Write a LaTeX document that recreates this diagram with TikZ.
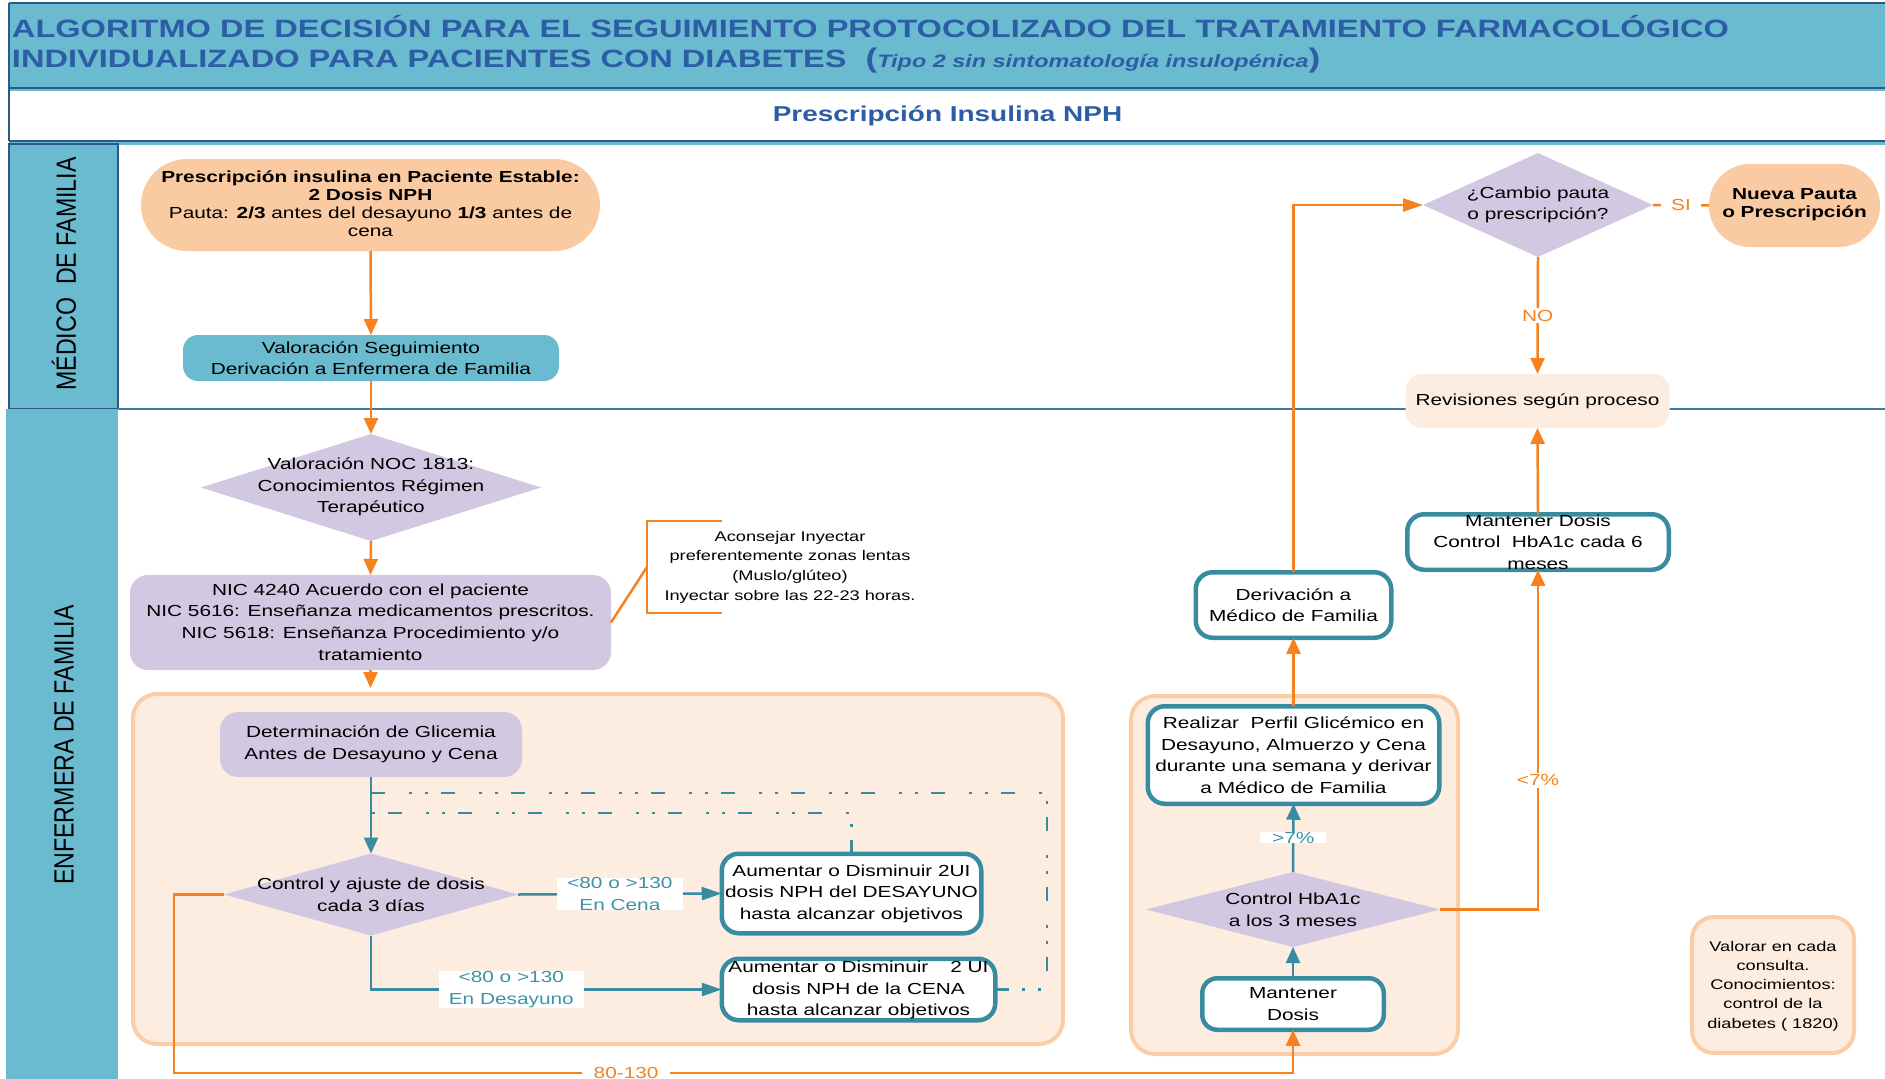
\documentclass[tikz,border=0pt]{standalone}
\usepackage{fontspec}
\setmainfont{Liberation Sans}[FakeStretch=1.3]
\newfontfamily\lanefont{Liberation Sans}
\usetikzlibrary{shapes.geometric,arrows.meta}

\definecolor{bandteal}{HTML}{6ABBD0}
\definecolor{bandline}{HTML}{2B5A8A}
\definecolor{titleblue}{HTML}{2C5DA5}
\definecolor{orng}{HTML}{F5821F}
\definecolor{tealln}{HTML}{378CA0}
\definecolor{tealtxt}{HTML}{3C93A8}
\definecolor{lav}{HTML}{D2C8E1}
\definecolor{peach}{HTML}{FACBA3}
\definecolor{peachlt}{HTML}{FDEDE1}
\definecolor{peachbd}{HTML}{FBCDA6}
\definecolor{laneline}{HTML}{3E7BA6}

\newcommand\txtbody{\fontsize{16}{21.6}\selectfont}
\newcommand\txtpill{\fontsize{16}{18}\selectfont}
\newcommand\txtsmall{\fontsize{14}{19.6}\selectfont}
\newcommand\txtnote{\fontsize{14}{19.2}\selectfont}

\begin{document}
\begin{tikzpicture}[x=1pt,y=-1pt,
  every node/.style={inner sep=0pt,outer sep=0pt},
  txt/.style={align=center,font=\txtbody},
  lavbox/.style={fill=lav,rounded corners=18pt},
  tealbox/.style={draw=tealln,line width=4.5pt,fill=white,rounded corners=17pt},
  panel/.style={draw=peachbd,line width=4pt,fill=peachlt,rounded corners=24pt},
  decision/.style={diamond,fill=lav},
  oline/.style={draw=orng,line width=2.5pt},
  tline/.style={draw=tealln,line width=2.5pt},
  vtip/.style={-{Triangle[length=16pt,width=14pt]}},
  htip/.style={-{Triangle[length=20pt,width=13pt]}},
  edgelbl/.style={fill=white,font=\txtbody,align=center},
  dashdot/.style={draw=tealln,line width=2.5pt,dash pattern=on 14pt off 13pt on 3pt off 13pt on 3pt off 24pt},
]
\useasboundingbox (0,0) rectangle (1885,1079);

% header bands
\fill[bandteal] (9,3) rectangle (1885,88);
\draw[bandline,line width=1.5pt] (9,3) -- (1885,3);
\fill[white] (9,88) rectangle (1885,141);
\draw[bandteal,line width=3pt] (9,89.5) -- (1885,89.5);
\draw[bandline,line width=1.5pt] (9,88) -- (1885,88);
\draw[bandteal,line width=4pt] (9,143) -- (1885,143);
\draw[bandline,line width=1.5pt] (9,141) -- (1885,141);
\draw[bandline,line width=1.5pt] (9,3) -- (9,141);

\node[anchor=base west,font=\fontsize{25.05}{30}\selectfont\bfseries,text=titleblue] (title1) at (12,37.5)
  {ALGORITMO DE DECISIÓN PARA EL SEGUIMIENTO PROTOCOLIZADO DEL TRATAMIENTO FARMACOLÓGICO};
\node[anchor=base west,font=\fontsize{25.05}{30}\selectfont\bfseries,text=titleblue] (title2) at (12,67.5)
  {INDIVIDUALIZADO PARA PACIENTES CON DIABETES\hspace{19pt}{\fontsize{27}{30}\selectfont(}{\fontsize{18}{20}\selectfont\itshape Tipo 2 sin sintomatología insulopénica}{\fontsize{27}{30}\selectfont)}};
\node[anchor=base,font=\fontsize{21.5}{24}\selectfont\bfseries,text=titleblue] (subtitle) at (947.5,121.5)
  {Prescripción Insulina NPH};

% swim lanes
\filldraw[fill=bandteal,draw=bandline,line width=1.5pt] (9,144) rectangle (118,409);
\fill[bandteal] (6,409) rectangle (118,1079);
\draw[laneline,line width=2pt] (118,409) -- (1885,409);
\node[rotate=90,font={\lanefont\fontsize{23.2}{26}\selectfont}] (lane-med) at (64,274)
  {\scalebox{1}[1.2]{MÉDICO\ \ DE FAMILIA}};
\node[rotate=90,font={\lanefont\fontsize{23.2}{26}\selectfont}] (lane-enf) at (64,745)
  {\scalebox{1}[1.2]{ENFERMERA DE FAMILIA}};

% grouping panels
\node[panel,minimum width=930pt,minimum height=350pt] (panelL) at (598,869) {};
\node[panel,minimum width=327pt,minimum height=358pt] (panelR) at (1294.5,875) {};
\node[panel,rounded corners=22pt,minimum width=162pt,minimum height=136pt] (valorar) at (1773,985) {};
\node[txt,font=\txtnote] (valorar-t) at (1773,986)
  {Valorar en cada\\consulta.\\Conocimientos:\\control de la\\diabetes ( 1820)};

% physician lane
\node[fill=peach,rounded corners=46pt,minimum width=459pt,minimum height=92pt] (pill1) at (370.5,205) {};
\node[txt,font=\txtpill] (pill1-t) at (370.5,204)
  {\textbf{Prescripción insulina en Paciente Estable:}\\\textbf{2 Dosis NPH}\\Pauta: \textbf{2/3} antes del desayuno \textbf{1/3} antes de\\cena};
\node[fill=bandteal,rounded corners=15pt,minimum width=376pt,minimum height=46pt] (valseg) at (371,358) {};
\node[txt] (valseg-t) at (371,358) {Valoración Seguimiento\\Derivación a Enfermera de Familia};

\node[decision,minimum width=230pt,minimum height=104pt] (cambio) at (1538,205) {};
\node[txt] (cambio-t) at (1538,205) {¿Cambio pauta\\o prescripción?};
\node[fill=peach,rounded corners=41pt,minimum width=171pt,minimum height=83pt] (nueva) at (1794.5,205.5) {};
\node[txt,font=\txtpill] (nueva-t) at (1794.5,205) {\textbf{Nueva Pauta}\\\textbf{o Prescripción}};
\node[fill=peachlt,rounded corners=16pt,minimum width=264pt,minimum height=54pt] (revisiones) at (1537.5,401) {};
\node[txt] (revisiones-t) at (1537.5,401) {Revisiones según proceso};

% nurse lane
\node[decision,minimum width=340pt,minimum height=107pt] (noc) at (371,487.5) {};
\node[txt] (noc-t) at (371,487) {Valoración NOC 1813:\\Conocimientos Régimen\\Terapéutico};
\node[lavbox,minimum width=481pt,minimum height=95pt] (nic) at (370.5,622.5) {};
\node[txt] (nic-t) at (370.5,622)
  {NIC 4240 Acuerdo con el paciente\\NIC 5616: Enseñanza medicamentos prescritos.\\NIC 5618: Enseñanza Procedimiento y/o\\tratamiento};
\node[txt,font=\txtsmall] (note-t) at (790,567)
  {Aconsejar Inyectar\\preferentemente zonas lentas\\(Muslo/glúteo)\\Inyectar sobre las 22-23 horas.};
\coordinate (brk-m) at (647,567);
\coordinate (brk-t) at (722,521);
\coordinate (brk-b) at (722,613);
\coordinate (panelL-in) at (370.5,688);

\node[lavbox,minimum width=302pt,minimum height=65pt] (detglic) at (371,744.5) {};
\node[txt] (detglic-t) at (371,744.5) {Determinación de Glicemia\\Antes de Desayuno y Cena};
\node[decision,minimum width=294pt,minimum height=82pt] (ctrl) at (371,894.5) {};
\node[txt] (ctrl-t) at (371,894.5) {Control y ajuste de dosis\\cada 3 días};
\node[tealbox,minimum width=259.5pt,minimum height=79.5pt] (aumD) at (851.5,893.5) {};
\node[txt] (aumD-t) at (851.5,893.5) {Aumentar o Disminuir 2UI\\dosis NPH del DESAYUNO\\hasta alcanzar objetivos};
\node[tealbox,minimum width=273.5pt,minimum height=61.5pt] (aumC) at (858.5,989.5) {};
\node[txt] (aumC-t) at (858.5,990) {Aumentar o Disminuir\hspace{22pt}2 UI\\dosis NPH de la CENA\\hasta alcanzar objetivos};

\node[tealbox,minimum width=291.5pt,minimum height=97.5pt] (realizar) at (1293.5,755) {};
\node[txt] (realizar-t) at (1293.5,755)
  {Realizar\ \ Perfil Glicémico en\\Desayuno, Almuerzo y Cena\\durante una semana y derivar\\a Médico de Familia};
\node[tealbox,minimum width=195.5pt,minimum height=65.5pt] (derivacion) at (1293.5,605) {};
\node[txt] (derivacion-t) at (1293.5,605) {Derivación a\\Médico de Familia};
\node[decision,minimum width=294pt,minimum height=75pt] (hba1c) at (1293,909.5) {};
\node[txt] (hba1c-t) at (1293,909.5) {Control HbA1c\\a los 3 meses};
\node[tealbox,rounded corners=15pt,minimum width=181.5pt,minimum height=51.5pt] (mantener) at (1293,1004) {};
\node[txt] (mantener-t) at (1293,1004) {Mantener\\Dosis};
\node[tealbox,minimum width=261.5pt,minimum height=55.5pt] (mantctrl) at (1538,542) {};
\node[txt] (mantctrl-t) at (1538,542) {Mantener Dosis\\Control\ \ HbA1c cada 6\\meses};

% connectors: physician lane and entry to nurse lane
\draw[oline,vtip] (pill1.south) -- (valseg.north);
\draw[oline,vtip] (valseg.south) -- (noc.north);
\draw[oline,vtip] (noc.south) -- (nic.north);
\draw[oline,vtip] (nic.south) -- (panelL-in);
\draw[oline] (nic.east) -- (brk-m);
\draw[oline] (brk-t) -- (brk-t -| brk-m) -- (brk-b -| brk-m) -- (brk-b);

% connectors: dose adjustment loop
\draw[tline,vtip] (detglic.south) -- (ctrl.north);
\draw[tline,htip] (ctrl.east) -- node[edgelbl,text=tealtxt,inner xsep=10pt] (lbl-cena) {<80 o >130\\En Cena} (aumD.west);
\draw[tline,htip] (ctrl.south) |- node[pos=0.7,edgelbl,text=tealtxt,inner xsep=10pt] (lbl-des) {<80 o >130\\En Desayuno} (aumC.west);
\coordinate (dd-out) at (1047,793);
\coordinate (dd-join) at (371,793);
\coordinate (dd-in) at (371,813);
\draw[dashdot] (aumC.east) -| (dd-out) -- (dd-join);
\draw[dashdot] (aumD.north) |- (dd-in);

\coordinate (loop-a) at (174,1073);
\draw[oline,vtip] (ctrl.west) -| (loop-a) -- node[pos=0.404,edgelbl,text=orng,inner xsep=12pt] (lbl-80) {80-130} (loop-a -| mantener.south) -- (mantener.south);

% connectors: HbA1c follow-up
\draw[tline,vtip] (mantener.north) -- (hba1c.south);
\draw[tline,vtip] (hba1c.north) -- node[edgelbl,text=tealtxt,inner xsep=12pt] (lbl-gt7) {>7\%} (realizar.south);
\draw[oline,vtip] (realizar.north) -- (derivacion.south);
\draw[oline,htip] (derivacion.north) |- (cambio.west);
\draw[oline,vtip] (hba1c.east) -| node[pos=0.69,edgelbl,text=orng,inner xsep=3pt,inner ysep=2pt] (lbl-lt7) {<7\%} (mantctrl.south);
\draw[oline,vtip] (mantctrl.north) -- (revisiones.south);
\draw[oline,vtip] (cambio.south) -- node[edgelbl,text=orng,inner ysep=2pt] (lbl-no) {NO} (revisiones.north);
\draw[oline] (cambio.east) -- node[edgelbl,text=orng,inner xsep=10pt] (lbl-si) {SI} (nueva.west);
\end{tikzpicture}
\end{document}
